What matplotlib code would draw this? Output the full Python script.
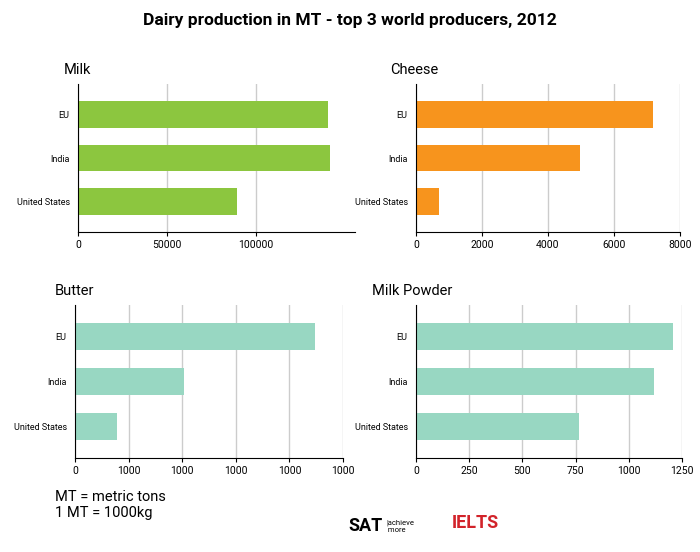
import matplotlib
matplotlib.use('Agg')
import matplotlib.pyplot as plt

plt.rcParams['font.family'] = 'Roboto'

countries = ['EU', 'India', 'United States']
milk = [141000, 142000, 89500]
cheese = [7180, 4970, 705]
butter = [2240, 1015, 395]
milk_powder = [1207, 1117, 767]

milk_ticks = [0, 50000, 100000]
cheese_ticks = [0, 2000, 4000, 6000, 8000]
butter_ticks = [0, 500, 1000, 1500, 2000, 2500]
butter_labels = ['0', '1000', '1000', '1000', '1000', '1000']
powder_ticks = [0, 250, 500, 750, 1000, 1250]

W, H = 700, 552
fig = plt.figure(figsize=(7, 5.52), dpi=100)
fig.text(0.5, 1 - 20 / H, 'Dairy production in MT - top 3 world producers, 2012',
         ha='center', va='center', fontsize=12.5, fontweight='bold')

def panel(px, py, pw, ph, vals, color, title, tx, ticks, xmax, labels=None):
    ax = fig.add_axes([px / W, 1 - (py + ph) / H, pw / W, ph / H])
    y = range(len(countries))
    ax.barh(y, vals, color=color, height=0.62, zorder=2)
    ax.set_yticks(list(y))
    ax.set_yticklabels(countries, fontsize=6.5)
    ax.set_ylim(2.7, -0.7)
    ax.set_xlim(0, xmax)
    ax.set_xticks(ticks)
    ax.set_xticklabels(labels if labels else [str(t) for t in ticks], fontsize=7.5)
    ax.grid(axis='x', color='#cccccc', linewidth=1, zorder=0)
    for s in ['top', 'right']:
        ax.spines[s].set_visible(False)
    ax.tick_params(length=3, pad=3)
    ax.tick_params(axis='y', length=0, pad=6)
    fig.text(tx / W, 1 - (py - 14) / H, title, fontsize=10.5, ha='left', va='center')
    return ax

panel(78, 84, 277, 148, milk, '#8cc63f', 'Milk', 64, milk_ticks, 156000)
panel(416, 84, 264, 148, cheese, '#f7941d', 'Cheese', 390, cheese_ticks, 8000)
panel(75, 305, 268, 153, butter, '#98d7c2', 'Butter', 55, butter_ticks, 2500, butter_labels)
panel(416, 305, 266, 153, milk_powder, '#98d7c2', 'Milk Powder', 372, powder_ticks, 1250)

fig.text(55 / W, 1 - 505 / H, 'MT = metric tons\n1 MT = 1000kg', fontsize=10.5,
         va='center', ha='left', linespacing=1.2)
fig.text(348 / W, 1 - 526 / H, 'SAT', fontsize=13, fontweight='bold', va='center')
fig.text(386 / W, 1 - 526 / H, '|achieve\n more', fontsize=5.5, va='center')
fig.text(452 / W, 1 - 523 / H, 'IELTS', fontsize=13, fontweight='bold',
         color='#d2232a', va='center')

fig.savefig('out.png', dpi=100)
